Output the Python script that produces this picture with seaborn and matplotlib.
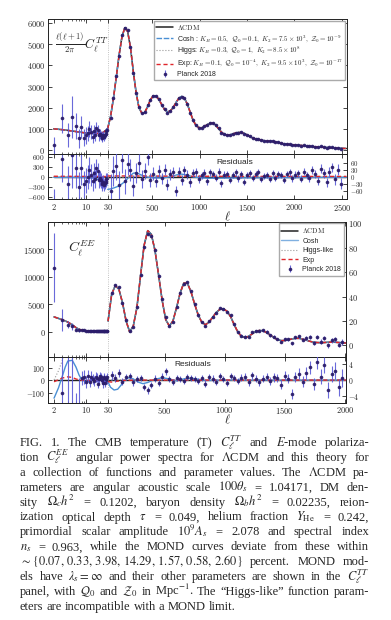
import numpy as np
import matplotlib
matplotlib.use('Agg')
import matplotlib.pyplot as plt
import seaborn as sns
from matplotlib.ticker import FixedLocator, FuncFormatter, NullFormatter

#%%
# ---- TT spectrum (muK^2) ----
tt_ell_lo = np.arange(2, 30)
tt_lcdm_lo = [1010, 975, 940, 910, 885, 862, 845, 830, 818, 808, 800, 795, 792, 790,
              790, 792, 795, 800, 806, 814, 823, 834, 846, 880, 905, 935, 965, 1000]
tt_ell_hi = np.arange(30, 2551, 30)
tt_lcdm_hi = [1040, 1600, 2450, 3450, 4500, 5350, 5780, 5600, 4850, 3700,
              2700, 2000, 1750, 1780, 2050, 2380, 2570, 2560, 2400, 2150,
              1920, 1810, 1850, 2010, 2250, 2450, 2540, 2450, 2180, 1800,
              1430, 1180, 1070, 1060, 1120, 1210, 1270, 1275, 1190, 1020,
              860, 750, 715, 725, 770, 815, 840, 840, 800, 730,
              650, 580, 540, 510, 480, 455, 440, 430, 420, 400,
              370, 335, 305, 285, 270, 260, 250, 240, 228, 215,
              200, 188, 176, 166, 156, 148, 140, 132, 124, 116,
              108, 101, 95, 89, 84]

# Planck 2018 TT, low-ell
tt_data_lo = [230, 1500, 720, 1560, 1150, 560, 1100, 600, 700, 800, 1000, 850, 650, 900,
              720, 1050, 950, 700, 760, 700, 600, 650, 700, 620, 700, 780, 900, 950]
tt_err_lo = [400, 700, 550, 1000, 600, 450, 500, 400, 380, 350, 380, 330, 300, 300,
             280, 280, 260, 240, 230, 220, 210, 200, 190, 180, 175, 170, 165, 160]
# Planck 2018 TT, binned high-ell residuals (data - LCDM), ell = 60 ... 2490
tt_res_hi = [-60, 25, 45, -35, 70, -20, 55, 30, -40, 15, 60, -10, 25, 85, -15,
             12, -18, 25, -8, 30, -35, 10, 18, -62, 22,
             -15, 28, 8, -25, 15, 20, -10, 5, 14, -20,
             18, 10, -5, 22, -28, 8, 12, -15, 6, 18,
             -8, 10, -22, 5, 15, -6, 12, 20, -12, 4,
             8, -10, 16, -4, 10, 6, -14, 12, 18, -6,
             8, 14, -10, 22, 5, -8, 28, 12, -18, 35,
             15, -25, 20, 40, -12, 30, -30]
tt_err_hi = [70, 65, 60, 60, 55, 55, 50, 48, 45, 42, 40, 38, 35, 33, 30,
             28, 27, 26, 25, 24, 24, 23, 22, 22, 21,
             20, 20, 19, 19, 18, 18, 17, 17, 17, 16,
             16, 16, 15, 15, 15, 15, 14, 14, 14, 14,
             14, 14, 13, 13, 13, 13, 13, 13, 13, 13,
             13, 13, 13, 13, 14, 14, 14, 14, 14, 15,
             15, 15, 15, 16, 16, 16, 17, 17, 18, 18,
             19, 19, 20, 21, 22, 23, 24]

# MOND model residuals w.r.t. LCDM (TT)
cosh_tt_ell_lo = [2, 5, 10, 15, 20, 24, 27, 29]
cosh_tt_lo = [-20, -22, -28, -45, -100, -180, -240, -260]
cosh_tt_ell_hi = [30, 60, 100, 150, 200, 240, 270, 300, 330, 360, 400, 450, 500, 600,
                  700, 760, 810, 860, 920, 1000, 1100, 1300, 1500, 1700, 1900, 2100, 2300, 2550]
cosh_tt_hi = [-55, -53, -48, -40, -25, -8, 5, 15, 17, 12, 4, -2, -5, -6,
              0, 8, 11, 7, 0, -5, -7, -6, -5, -5, -4, -4, -3, -3]
exp_tt_ell_lo = [2, 10, 20, 29]
exp_tt_lo = [12, 8, 5, 3]
exp_tt_ell_hi = [30, 300, 800, 1500, 2550]
exp_tt_hi = [3, 3, 2, 1, 1]
higgs_tt_ell_lo = [2, 10, 20, 29]
higgs_tt_lo = [0, -5, -10, -15]
higgs_tt_ell_hi = [30, 100, 200, 350, 600, 900, 1500, 2550]
higgs_tt_hi = [-5, -6, -4, 3, 2, 3, 0, 0]

# ---- EE spectrum ----
ee_ell_lo = np.arange(2, 30)
ee_lcdm_lo = [2700, 2200, 1750, 1250, 750, 450, 280, 200, 150, 125, 110, 100, 95, 92,
              90, 88, 86, 85, 84, 84, 84, 84, 85, 86, 87, 89, 91, 94]
ee_ell_hi = np.arange(30, 2011, 30)
ee_lcdm_hi = [20, 42, 49, 46, 35, 20, 11, 16, 31, 57,
              82, 94, 91, 78, 58, 37, 21, 16, 20, 31,
              43, 51, 51, 44, 34, 25, 19, 17, 19, 23,
              27, 29.5, 30, 28, 23.5, 17, 11, 7.5, 6.5, 7.5,
              9.5, 11.5, 12.3, 12, 10.5, 8.5, 6.5, 4.8, 4, 4,
              4.6, 5.3, 5.8, 5.8, 5.2, 4.3, 3.4, 2.7, 2.4, 2.3,
              2.4, 2.6, 2.7, 2.6, 2.4, 2.2, 2.0]

ee_data_lo = [11700, 2100, 1300, 950, 350, 250, 300, 230, 140, 160, 100, 130, 110, 85,
              120, 110, 60, 95, 120, 110, 90, 60, 115, 105, 70, 100, 120, 95]
ee_err_lo = [6300, 2000, 700, 550, 300, 220, 60, 55, 50, 48, 46, 44, 42, 40,
             40, 38, 38, 36, 36, 35, 35, 34, 34, 33, 33, 32, 32, 30]
# ell = 60 ... 1980
ee_res_hi = [1.2, 0.5, 1.8, -0.4, 0.8, 1.0, -0.6, 0.3, 0.6, -1.8,
             -2.6, -1.2, 0.4, -0.8, 0.9, 2.2, 0.3, -0.5, 0.6, 0.2,
             -0.3, 0.8, 0.5, 0.3, -0.2, 0.6, -0.9, 0.7, 0.4, -0.4,
             1.0, 0.2, -0.7, 1.1, 0.5, -0.3, 0.6, 0.8, -0.5, 1.2,
             0.3, -0.6, 0.4, 0.9, -0.2, 0.7, 0.5, -1.2, 1.1, 0.4,
             -3.5, 0.8, 1.6, -0.4, 1.8, 3.2, -1.0, 4.6, 0.9, 3.8,
             -2.5, 1.5, 2.4, -1.8, 0.6]
ee_err_hi = [1.1, 1.0, 0.9, 0.9, 0.8, 0.8, 0.8, 0.8, 0.8, 0.8,
             0.8, 0.8, 0.8, 0.8, 0.8, 0.8, 0.8, 0.8, 0.8, 0.8,
             0.8, 0.8, 0.8, 0.8, 0.8, 0.8, 0.8, 0.8, 0.8, 0.8,
             0.8, 0.8, 0.8, 0.8, 0.8, 0.8, 0.9, 0.9, 0.9, 0.9,
             0.9, 0.9, 1.0, 1.0, 1.0, 1.1, 1.1, 1.1, 1.2, 1.2,
             1.3, 1.3, 1.4, 1.4, 1.5, 1.6, 1.6, 1.7, 1.8, 1.9,
             1.9, 2.0, 2.1, 2.2, 2.3]

cosh_ee_ell_lo = [2, 2.5, 3, 3.5, 4, 5, 6, 7, 8, 10, 13, 17, 22, 26, 29]
cosh_ee_lo = [-145, -60, 30, 110, 160, 165, 110, 45, 5, -10, 5, 12, 8, -2, -12]
cosh_ee_ell_hi = [30, 50, 80, 110, 140, 170, 200, 240, 280, 320, 360, 420, 480, 540,
                  600, 660, 720, 780, 850, 1000, 1300, 1700, 2010]
cosh_ee_hi = [-0.5, -1.8, -2.5, -2.3, -1.2, 0.1, 0.6, 0.3, -0.5, -0.9, -0.6, 0.2, 0.6, 0.3,
              -0.2, 0.3, 0.5, 0.2, -0.1, 0.0, 0.0, 0.0, 0.0]
exp_ee_ell_lo = [2, 3, 4, 5, 6, 8, 12, 20, 29]
exp_ee_lo = [-10, 20, 30, 25, 12, 2, 0, 0, -5]
exp_ee_ell_hi = [30, 60, 100, 150, 250, 2010]
exp_ee_hi = [-0.4, -0.5, -0.3, -0.1, 0, 0]
higgs_ee_ell_lo = [2, 2.5, 3, 3.5, 4]
higgs_ee_lo = [5, 80, 160, 240, 320]
higgs_ee_ell_hi = [30, 100, 300, 700, 2010]
higgs_ee_hi = [0, 0.1, 0, 0, 0]

caption = [
    r'FIG. 1.  The CMB temperature (T) $C_\ell^{TT}$ and $E$-mode polariza-',
    r'tion $C_\ell^{EE}$ angular power spectra for $\Lambda$CDM and this theory for',
    r'a collection of functions and parameter values.  The $\Lambda$CDM pa-',
    r'rameters are angular acoustic scale $100\theta_s$ = 1.04171, DM den-',
    r'sity $\Omega_c h^2$ = 0.1202, baryon density $\Omega_b h^2$ = 0.02235, reion-',
    r'ization optical depth $\tau$ = 0.049, helium fraction $Y_{\mathrm{He}}$ = 0.242,',
    r'primordial scalar amplitude $10^9 A_s$ = 2.078 and spectral index',
    r'$n_s$ = 0.963, while the MOND curves deviate from these within',
    r'$\sim\{0.07,\,0.33,\,3.98,\,14.29,\,1.57,\,0.58,\,2.60\}$ percent. MOND mod-',
    r'els have $\lambda_s = \infty$ and their other parameters are shown in the $C_\ell^{TT}$',
    r'panel, with $\mathcal{Q}_0$ and $\mathcal{Z}_0$ in Mpc$^{-1}$. The “Higgs-like” function param-',
    r'eters are incompatible with a MOND limit.',
]

#%%
sns.set_style('ticks')
plt.rcParams['font.family'] = ['Liberation Sans', 'DejaVu Sans']
plt.rcParams['mathtext.fontset'] = 'cm'
plt.rcParams['axes.linewidth'] = 0.7
plt.rcParams['axes.edgecolor'] = '#222222'
for a in 'xy':
    plt.rcParams[a + 'tick.direction'] = 'in'
    plt.rcParams[a + 'tick.major.size'] = 3
    plt.rcParams[a + 'tick.minor.size'] = 1.6
    plt.rcParams[a + 'tick.major.width'] = 0.6
    plt.rcParams[a + 'tick.minor.width'] = 0.5
    plt.rcParams[a + 'tick.major.pad'] = 2
    plt.rcParams[a + 'tick.labelsize'] = 6

C_LCDM, C_COSH, C_HIGGS, C_EXP = '#222222', '#4a8fd4', '#9a9a9a', '#e0262b'
C_BAR, C_DOT = '#5a5ad6', '#2b1d6b'
W, H = 391, 620

fig = plt.figure(figsize=(W / 100, H / 100), dpi=100)


def box(l, t, r, b):
    return [l / W, 1 - b / H, (r - l) / W, (b - t) / H]


def hybrid(k):
    # log scale below ell = 30, linear above
    def fwd(x):
        x = np.asarray(x, float)
        return np.where(x < 30, 30 + k * np.log10(np.clip(x, 1e-3, None) / 30), x)

    def inv(y):
        y = np.asarray(y, float)
        return np.where(y < 30, 30 * 10 ** ((np.clip(y, -5000, 30) - 30) / k), y)
    return fwd, inv


def curve(ax, x, y, **kw):
    sns.lineplot(x=np.asarray(x, float), y=np.asarray(y, float), ax=ax, legend=False,
                 sort=False, estimator=None, **kw)


def planck(ax, x, y, e, label=None):
    ax.errorbar(x, y, yerr=e, fmt='o', ms=1.6, mfc=C_DOT, mec=C_DOT, ecolor=C_BAR,
                elinewidth=0.8, capsize=0, alpha=0.9, zorder=5, label=label)


def style_x(ax, k, xmax, majors, labels):
    ax.set_xscale('function', functions=hybrid(k))
    ax.set_xlim(1.5, xmax)
    ax.xaxis.set_major_locator(FixedLocator(majors))
    ax.xaxis.set_minor_locator(FixedLocator([3, 4, 5, 6, 7, 8, 9, 20]))
    ax.xaxis.set_major_formatter(FuncFormatter(lambda v, p: f'${v:g}$') if labels else NullFormatter())
    ax.xaxis.set_minor_formatter(NullFormatter())
    ax.tick_params(axis='x', which='both', top=True, bottom=True)
    ax.axvline(30, color='#b0b0b0', ls=':', lw=0.6, zorder=0)


def style_y(ax, ticks, lim, size=6):
    ax.set_ylim(*lim)
    ax.yaxis.set_major_locator(FixedLocator(ticks))
    ax.yaxis.set_major_formatter(FuncFormatter(lambda v, p: f'${v:g}$'))
    ax.tick_params(axis='y', labelsize=size)


leg_font = {'family': 'Liberation Sans', 'size': 5.0}
leg_kw = dict(loc='upper right', prop=leg_font, frameon=True, fancybox=False, edgecolor='#aaaaaa',
              framealpha=1, handlelength=2.4, borderpad=0.3, labelspacing=0.15,
              borderaxespad=0.25, handletextpad=0.6)
K_TT, K_EE = 485.0, 382.5
TT_MAJ = [2, 10, 30, 500, 1000, 1500, 2000, 2500]
EE_MAJ = [2, 10, 30, 500, 1000, 1500, 2000]

#%% TT main panel
ax = fig.add_axes(box(48, 19, 347, 154))
tt_ell = np.concatenate([tt_ell_lo, tt_ell_hi])
tt_lcdm = np.concatenate([tt_lcdm_lo, tt_lcdm_hi])
# MOND curves lie within a pixel of LCDM here, drawn on the same values
curve(ax, tt_ell, tt_lcdm, color=C_LCDM, lw=1.1, label=r'$\Lambda\mathrm{CDM}$')
curve(ax, tt_ell, tt_lcdm, color=C_COSH, lw=1.0, dashes=(4, 1.2),
      label=r'Cosh : $K_B=0.5,\ \mathcal{Q}_0=0.1,\ K_2=7.5\times10^3,\ \mathcal{Z}_0=10^{-9}$')
curve(ax, tt_ell, tt_lcdm, color=C_HIGGS, lw=0.8, ls=':',
      label=r'Higgs: $K_B=0.3,\ \mathcal{Q}_0=1,\ K_2=8.5\times10^8$')
curve(ax, tt_ell, tt_lcdm, color=C_EXP, lw=1.0, dashes=(3, 2),
      label=r'Exp: $K_B=0.1,\ \mathcal{Q}_0=10^{-4},\ K_2=9.5\times10^3,\ \mathcal{Z}_0=10^{-17}$')
planck(ax, tt_ell_lo, tt_data_lo, tt_err_lo, label='Planck 2018')
planck(ax, tt_ell_hi[1:83], np.asarray(tt_lcdm_hi[1:83]) + tt_res_hi, tt_err_hi)
style_x(ax, K_TT, 2556, TT_MAJ, False)
style_y(ax, [0, 1000, 2000, 3000, 4000, 5000, 6000], (-175, 6190))
ax.tick_params(axis='y', right=True)
ax.legend(**leg_kw)
fig.text(82 / W, 1 - 43 / H, r'$\frac{\ell(\ell+1)}{2\pi}C_\ell^{TT}$', fontsize=9,
         ha='center', va='center')

#%% TT residuals
ax = fig.add_axes(box(48, 154, 347, 199.3))
ax2 = ax.twinx()
curve(ax, tt_ell_lo, np.asarray(tt_lcdm_lo) - tt_lcdm_lo, color=C_LCDM, lw=1.0)
curve(ax, cosh_tt_ell_lo, cosh_tt_lo, color=C_COSH, lw=1.0)
curve(ax, higgs_tt_ell_lo, higgs_tt_lo, color=C_HIGGS, lw=0.8, ls=':')
curve(ax, exp_tt_ell_lo, exp_tt_lo, color=C_EXP, lw=1.0, dashes=(3, 2))
planck(ax, tt_ell_lo, np.asarray(tt_data_lo) - tt_lcdm_lo, tt_err_lo)
curve(ax2, tt_ell_hi, np.asarray(tt_lcdm_hi) - tt_lcdm_hi, color=C_LCDM, lw=1.0)
curve(ax2, cosh_tt_ell_hi, cosh_tt_hi, color=C_COSH, lw=1.0)
curve(ax2, higgs_tt_ell_hi, higgs_tt_hi, color=C_HIGGS, lw=0.8, ls=':')
curve(ax2, exp_tt_ell_hi, exp_tt_hi, color=C_EXP, lw=1.0, dashes=(3, 2))
planck(ax2, tt_ell_hi[1:83], tt_res_hi, tt_err_hi)
style_x(ax, K_TT, 2556, TT_MAJ, True)
style_y(ax, [-600, -300, 0, 300, 600], (-680, 680), 5.3)
style_y(ax2, [-60, -30, 0, 30, 60], (-98, 98), 4.9)
fig.text(235 / W, 1 - 163 / H, 'Residuals', fontsize=6, ha='center', va='center')
fig.text(227 / W, 1 - 217 / H, r'$\ell$', fontsize=9, ha='center', va='center')

#%% EE main panel
ax = fig.add_axes(box(48.3, 221.7, 345.7, 356.7))
ax2 = ax.twinx()
for a, xs, ys in [(ax, ee_ell_lo, ee_lcdm_lo), (ax2, ee_ell_hi, ee_lcdm_hi)]:
    lab = a is ax2
    curve(a, xs, ys, color=C_LCDM, lw=1.1, label=r'$\Lambda\mathrm{CDM}$' if lab else None)
    curve(a, xs, ys, color=C_COSH, lw=1.0, alpha=0.7, label='Cosh' if lab else None)
    curve(a, xs, ys, color=C_HIGGS, lw=0.8, ls=':', label='Higgs-like' if lab else None)
    curve(a, xs, ys, color=C_EXP, lw=1.0, dashes=(3, 2), label='Exp' if lab else None)
planck(ax, ee_ell_lo, ee_data_lo, ee_err_lo)
planck(ax2, ee_ell_hi[1:66], np.asarray(ee_lcdm_hi[1:66]) + ee_res_hi, ee_err_hi, label='Planck 2018')
style_x(ax, K_EE, 2008, EE_MAJ, False)
style_y(ax, [0, 5000, 10000, 15000], (-4560, 20070))
style_y(ax2, [0, 20, 40, 60, 80, 100], (-9.2, 101.3))
ee_leg = dict(leg_kw, labelspacing=0.35, borderpad=0.4)
ax2.legend(**ee_leg)
fig.text(82 / W, 1 - 248 / H, r'$C_\ell^{EE}$', fontsize=10, ha='center', va='center')

#%% EE residuals
ax = fig.add_axes(box(48.3, 356.7, 345.7, 402.7))
ax2 = ax.twinx()
curve(ax, ee_ell_lo, np.asarray(ee_lcdm_lo) - ee_lcdm_lo, color=C_LCDM, lw=1.0)
curve(ax, cosh_ee_ell_lo, cosh_ee_lo, color=C_COSH, lw=1.0)
curve(ax, higgs_ee_ell_lo, higgs_ee_lo, color=C_HIGGS, lw=0.8, ls=':')
curve(ax, exp_ee_ell_lo, exp_ee_lo, color=C_EXP, lw=1.0, dashes=(3, 2))
planck(ax, ee_ell_lo, np.asarray(ee_data_lo) - ee_lcdm_lo, ee_err_lo)
curve(ax2, ee_ell_hi, np.asarray(ee_lcdm_hi) - ee_lcdm_hi, color=C_LCDM, lw=1.0)
curve(ax2, cosh_ee_ell_hi, cosh_ee_hi, color=C_COSH, lw=1.0)
curve(ax2, higgs_ee_ell_hi, higgs_ee_hi, color=C_HIGGS, lw=0.8, ls=':')
curve(ax2, exp_ee_ell_hi, exp_ee_hi, color=C_EXP, lw=1.0, dashes=(3, 2))
planck(ax2, ee_ell_hi[1:66], ee_res_hi, ee_err_hi)
style_x(ax, K_EE, 2008, EE_MAJ, True)
style_y(ax, [-100, 0, 100], (-182, 195), 5.5)
style_y(ax2, [-4, 0, 4], (-5.7, 5.9), 5.5)
fig.text(193 / W, 1 - 365 / H, 'Residuals', fontsize=6, ha='center', va='center')
fig.text(227 / W, 1 - 420 / H, r'$\ell$', fontsize=9, ha='center', va='center')

#%% caption, justified word by word
def split_words(s):
    out, cur, inmath = [], '', False
    for ch in s:
        if ch == '$':
            inmath = not inmath
        if ch == ' ' and not inmath:
            if cur:
                out.append(cur)
            cur = ''
        else:
            cur += ch
    if cur:
        out.append(cur)
    return out


rend = fig.canvas.get_renderer()
x_left, x_right = 20, 369
for i, line in enumerate(caption):
    words = split_words(line)
    texts = [fig.text(0, 1 - (446 + 14.9 * i) / H, w, fontsize=9.0, va='baseline',
                      family='Liberation Serif', math_fontfamily='stix') for w in words]
    widths = [t.get_window_extent(rend).width for t in texts]
    if i == len(caption) - 1:
        gap = 3.1
    else:
        gap = (x_right - x_left - sum(widths)) / (len(words) - 1)
    x = x_left
    for t, w in zip(texts, widths):
        t.set_x(x / W)
        x += w + gap

fig.savefig('out.png', dpi=100)
